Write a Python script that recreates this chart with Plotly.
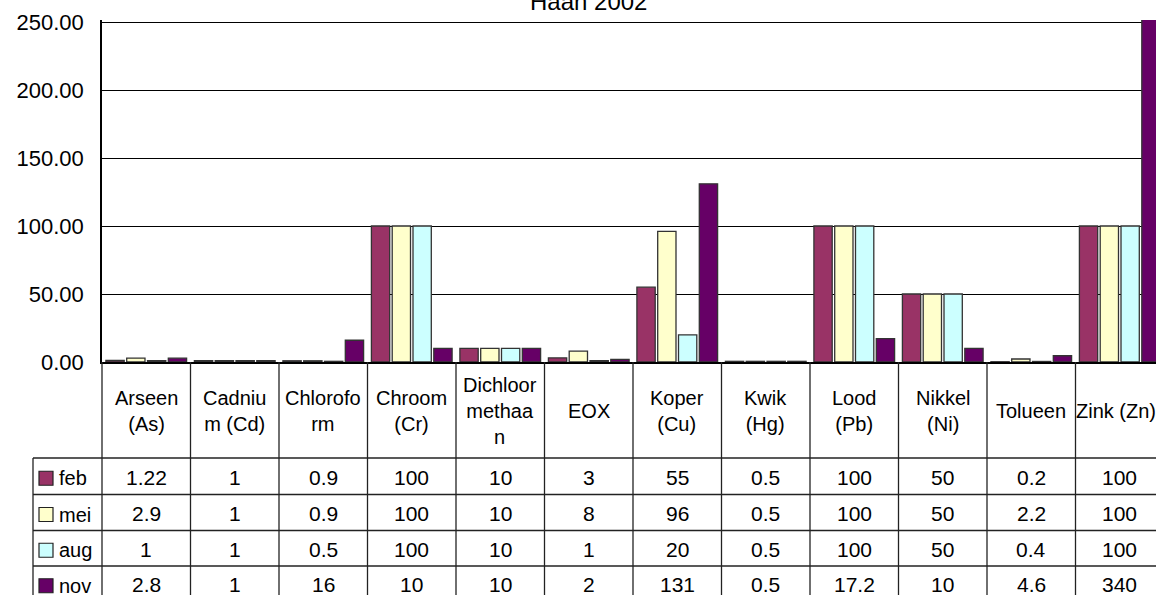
import plotly.graph_objects as go

# ---------------- data ----------------
title_text = "Haan 2002"
categories = ["Arseen (As)", "Cadnium (Cd)", "Chloroform", "Chroom (Cr)",
              "Dichloormethaan", "EOX", "Koper (Cu)", "Kwik (Hg)",
              "Lood (Pb)", "Nikkel (Ni)", "Tolueen", "Zink (Zn)"]
category_labels = ["Arseen<br>(As)", "Cadniu<br>m (Cd)", "Chlorofo<br>rm", "Chroom<br>(Cr)",
                   "Dichloor<br>methaa<br>n", "EOX", "Koper<br>(Cu)", "Kwik<br>(Hg)",
                   "Lood<br>(Pb)", "Nikkel<br>(Ni)", "Tolueen", "Zink (Zn)"]
series_names = ["feb", "mei", "aug", "nov"]
feb = [1.22, 1, 0.9, 100, 10, 3, 55, 0.5, 100, 50, 0.2, 100]
mei = [2.9, 1, 0.9, 100, 10, 8, 96, 0.5, 100, 50, 2.2, 100]
aug = [1, 1, 0.5, 100, 10, 1, 20, 0.5, 100, 50, 0.4, 100]
nov = [2.8, 1, 16, 10, 10, 2, 131, 0.5, 17.2, 10, 4.6, 340]
y_ticks = [0, 50, 100, 150, 200, 250]

# ---------------- style ----------------
colors = ["#993366", "#FFFFCC", "#CCFFFF", "#660066"]
FONT = "Liberation Sans, Arial, sans-serif"
FIG_W, FIG_H = 1156, 595
L, T = 102, 20
PLOT_BOTTOM = 362
W = FIG_W - L
H = PLOT_BOTTOM - T
CAT_PX = 88.5
xr0 = -0.5
xr1 = xr0 + W / CAT_PX
y_top = 250 * H / (PLOT_BOTTOM - 22)

def px_x(px):
    return (px - L) / W

def px_y(py):
    return (PLOT_BOTTOM - py) / H

def edge_x(i):
    return (i - 0.5 - xr0) / (xr1 - xr0)

def center_x(i):
    return (i - xr0) / (xr1 - xr0)

fig = go.Figure()
for name, vals, col in zip(series_names, [feb, mei, aug, nov], colors):
    fig.add_bar(x=categories, y=vals, name=name, marker_color=col,
                marker_line_color="#333333", marker_line_width=1.3,
                showlegend=False, hoverinfo="x+y+name")

shapes = []
annotations = []

header_top = PLOT_BOTTOM
header_bottom = 458
row_edges = [458, 494.5, 530.5, 566, 601.5]
legend_left = 33
line_style = dict(color="#222222", width=1.3)

for i in range(len(categories) + 1):
    xp = edge_x(i)
    shapes.append(dict(type="line", xref="paper", yref="paper", x0=xp, x1=xp,
                       y0=px_y(header_top), y1=px_y(row_edges[-1]), line=line_style))
shapes.append(dict(type="line", xref="paper", yref="paper", x0=px_x(legend_left), x1=px_x(legend_left),
                   y0=px_y(row_edges[0]), y1=px_y(row_edges[-1]), line=line_style))
for ry in row_edges:
    shapes.append(dict(type="line", xref="paper", yref="paper", x0=px_x(legend_left), x1=edge_x(len(categories)),
                       y0=px_y(ry), y1=px_y(ry), line=line_style))

max_label_x = px_x(1116)
for i, lab in enumerate(category_labels):
    annotations.append(dict(x=min(center_x(i), max_label_x), y=px_y((header_top + header_bottom) / 2 + 1),
                            xref="paper", yref="paper", text=lab, showarrow=False,
                            xanchor="center", yanchor="middle",
                            font=dict(family=FONT, size=20, color="black")))

for r, (name, vals, col) in enumerate(zip(series_names, [feb, mei, aug, nov], colors)):
    yc = (row_edges[r] + row_edges[r + 1]) / 2
    for i, v in enumerate(vals):
        annotations.append(dict(x=center_x(i), y=px_y(yc + 1), xref="paper", yref="paper",
                                text=f"{v:g}", showarrow=False, xanchor="center", yanchor="middle",
                                font=dict(family=FONT, size=21, color="black")))
    shapes.append(dict(type="rect", xref="paper", yref="paper",
                       x0=px_x(39), x1=px_x(53), y0=px_y(yc - 7 + 2), y1=px_y(yc + 7 + 2),
                       fillcolor=col, line=dict(color="#222222", width=1.2)))
    annotations.append(dict(x=px_x(57), y=px_y(yc + 2), xref="paper", yref="paper",
                            text=name, showarrow=False, xanchor="left", yanchor="middle",
                            font=dict(family=FONT, size=20, color="black")))

annotations.append(dict(x=px_x(588), y=px_y(1.5), xref="paper", yref="paper", text=title_text,
                        showarrow=False, xanchor="center", yanchor="middle",
                        font=dict(family=FONT, size=24, color="black")))

fig.update_layout(
    width=FIG_W, height=FIG_H,
    margin=dict(l=L, r=0, t=T, b=FIG_H - PLOT_BOTTOM, pad=0, autoexpand=False),
    paper_bgcolor="white", plot_bgcolor="white",
    barmode="group", bargap=0.06, bargroupgap=0.12,
    shapes=shapes, annotations=annotations,
    font=dict(family=FONT, color="black"),
)
fig.update_xaxes(range=[xr0, xr1], showticklabels=False, ticks="", showgrid=False,
                 showline=True, linecolor="black", linewidth=2, zeroline=False, automargin=False)
fig.update_yaxes(range=[0, y_top], tickvals=y_ticks, tickformat=".2f",
                 showgrid=True, gridcolor="black", gridwidth=1,
                 showline=True, linecolor="black", linewidth=1.5, zeroline=False,
                 ticks="", ticklabelstandoff=12, automargin=False,
                 tickfont=dict(family=FONT, size=22, color="black"))

fig.write_html("out.html", config={"displayModeBar": False},
               post_script="document.body.style.margin='0';document.body.style.overflow='hidden';")
